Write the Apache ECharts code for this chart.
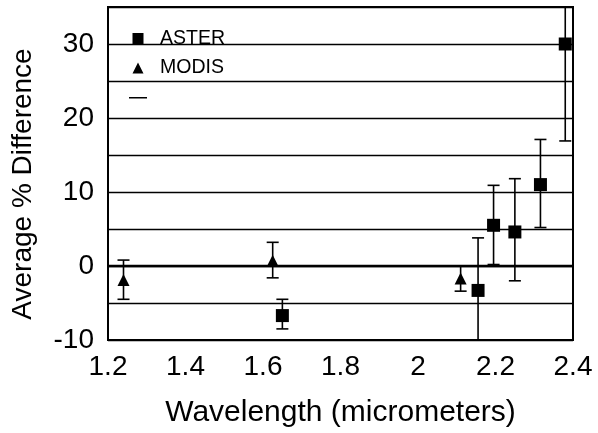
<!DOCTYPE html>
<html>
<head>
<meta charset="utf-8">
<script src="https://cdn.jsdelivr.net/npm/echarts@6/dist/echarts.min.js"></script>
<style>
html,body{margin:0;padding:0;background:#fff;}
#chart{width:598px;height:433px;}
</style>
</head>
<body>
<div id="chart"></div>
<script>
// ASTER (squares)
var asterX  = [1.65, 2.155, 2.195, 2.25, 2.316, 2.38];
var asterY  = [-6.7, -3.3, 5.5, 4.6, 11.0, 30.0];
var asterHi = [-4.5, 3.8, 10.9, 11.8, 17.1, 43.0];
var asterLo = [-8.5, -10.0, 0.2, -2.0, 5.2, 16.9];
// MODIS (triangles)
var modisX  = [1.24, 1.625, 2.11];
var modisY  = [-1.9, 0.7, -1.7];
var modisHi = [0.8, 3.2, 0.0];
var modisLo = [-4.5, -1.6, -3.4];
// axis ticks
var xTicks = ['1.2', '1.4', '1.6', '1.8', '2', '2.2', '2.4'];
var yTicks = [-10, 0, 10, 20, 30];

var FONT = '"Liberation Sans", Arial, sans-serif';

function pairs(xs, ys) { return xs.map(function (x, i) { return [x, ys[i]]; }); }
function errData(xs, lo, hi) { return xs.map(function (x, i) { return [x, lo[i], hi[i]]; }); }

function errRender(params, api) {
  var x = api.value(0);
  var lo = api.coord([x, api.value(1)]);
  var hi = api.coord([x, api.value(2)]);
  var cap = 6;
  var st = { stroke: '#000', lineWidth: 1.6 };
  return {
    type: 'group',
    children: [
      { type: 'line', shape: { x1: lo[0], y1: lo[1], x2: hi[0], y2: hi[1] }, style: st },
      { type: 'line', shape: { x1: lo[0] - cap, y1: lo[1], x2: lo[0] + cap, y2: lo[1] }, style: st },
      { type: 'line', shape: { x1: hi[0] - cap, y1: hi[1], x2: hi[0] + cap, y2: hi[1] }, style: st }
    ]
  };
}

// legend icons drawn inside a 34x12 box (corner specks fix the box)
var BOX = 'M0,0h0.01v0.01h-0.01zM33.99,11.99h0.01v0.01h-0.01z';
var iconSquare = 'path://' + BOX + 'M11.5,0.5h11v11h-11z';
var iconTri = 'path://' + BOX + 'M17,0.5L22.5,11.5H11.5z';
var iconDash = 'path://' + BOX + 'M8,5.2h18v1.6h-18z';

var chart = echarts.init(document.getElementById('chart'), null, { renderer: 'canvas' });
chart.setOption({
  animation: false,
  backgroundColor: '#fff',
  textStyle: { fontFamily: FONT },
  grid: { left: 108, right: 25, top: 7, bottom: 90, show: true, borderColor: '#000', borderWidth: 2, backgroundColor: 'transparent' },
  legend: {
    orient: 'vertical',
    left: 121, top: 28.5, padding: 0,
    itemWidth: 34, itemHeight: 12, itemGap: 9.6,
    textStyle: { fontFamily: FONT, fontSize: 19.5, color: '#000', lineHeight: 20 },
    data: [
      { name: 'ASTER', icon: iconSquare, itemStyle: { color: '#000' } },
      { name: 'MODIS', icon: iconTri, itemStyle: { color: '#000' } },
      { name: ' ', icon: iconDash, itemStyle: { color: '#000' } }
    ]
  },
  xAxis: {
    type: 'value', min: 1.2, max: 2.4, interval: 0.2,
    name: 'Wavelength (micrometers)', nameLocation: 'middle', nameGap: 58,
    nameTextStyle: { fontFamily: FONT, fontSize: 30, color: '#000' },
    axisLine: { show: false }, axisTick: { show: false },
    splitLine: { show: false },
    axisLabel: {
      fontFamily: FONT, fontSize: 28, color: '#000', margin: 13,
      formatter: function (v) { var s = String(Math.round(v * 10) / 10); return xTicks.indexOf(s) >= 0 ? s : ''; }
    }
  },
  yAxis: {
    type: 'value', min: -10, max: 35, interval: 5,
    axisLine: { show: false }, axisTick: { show: false },
    splitLine: { show: true, lineStyle: { color: '#000', width: 1.4 } },
    axisLabel: {
      fontFamily: FONT, fontSize: 28, color: '#000', margin: 14,
      formatter: function (v) { return yTicks.indexOf(Math.round(v)) >= 0 ? String(Math.round(v)) : ''; }
    }
  },
  graphic: [
    { type: 'text', x: 23, y: 184, rotation: Math.PI / 2,
      style: { text: 'Average % Difference', font: '28px ' + FONT, fill: '#000', align: 'center', verticalAlign: 'middle' } }
  ],
  series: [
    { name: ' ', type: 'custom', renderItem: errRender, clip: true, z: 2,
      itemStyle: { color: '#000' },
      encode: { x: 0, y: [1, 2] }, data: errData(asterX, asterLo, asterHi) },
    { name: ' ', type: 'custom', renderItem: errRender, clip: true, z: 2,
      itemStyle: { color: '#000' },
      encode: { x: 0, y: [1, 2] }, data: errData(modisX, modisLo, modisHi) },
    { name: 'ASTER', type: 'scatter', symbol: 'rect', symbolSize: 13, z: 3,
      itemStyle: { color: '#000', opacity: 1 }, data: pairs(asterX, asterY),
      markLine: { silent: true, symbol: 'none', label: { show: false },
        lineStyle: { color: '#000', width: 2.4, type: 'solid' }, data: [{ yAxis: 0 }] } },
    { name: 'MODIS', type: 'scatter', symbol: 'triangle', symbolSize: [12, 12], z: 3,
      itemStyle: { color: '#000', opacity: 1 }, data: pairs(modisX, modisY) }
  ]
});
</script>
</body>
</html>
